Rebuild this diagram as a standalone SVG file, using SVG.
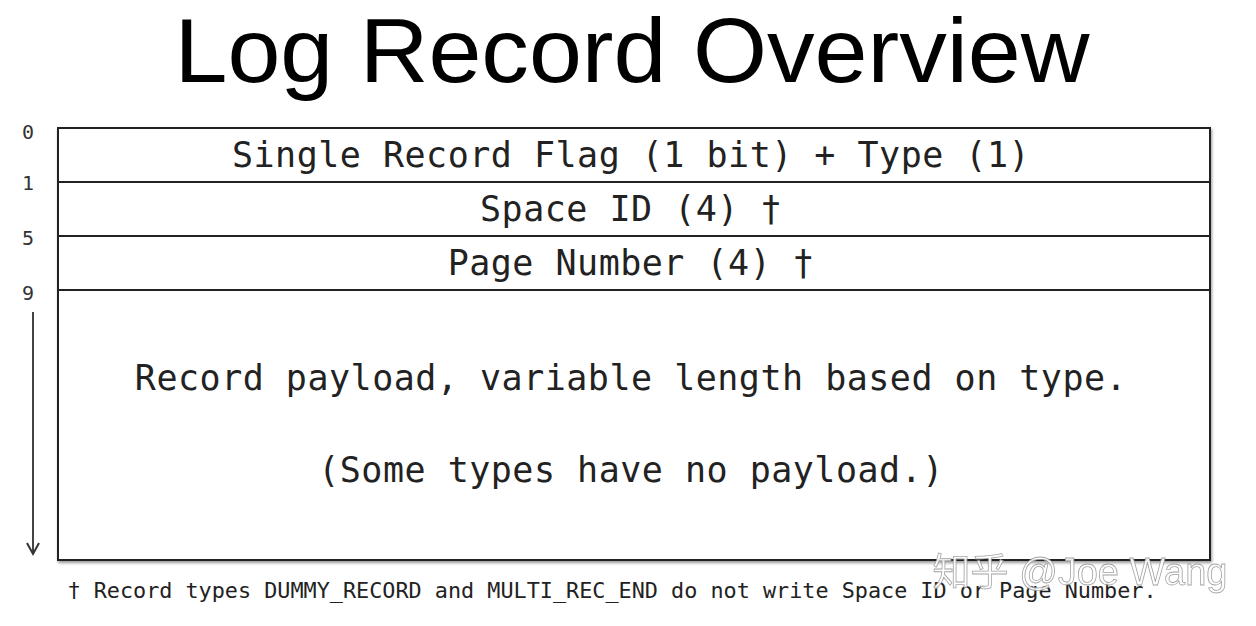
<svg xmlns="http://www.w3.org/2000/svg" width="1256" height="626" viewBox="0 0 1256 626">
<defs>
<style>
.mono{font-family:"DejaVu Sans Mono","Liberation Mono",monospace;fill:#222}
.row{font-size:35px;text-anchor:middle;letter-spacing:0.5px}
.off{font-size:20px;text-anchor:middle;fill:#333}
.ln{stroke:#222;stroke-width:2;fill:none}
</style>
<marker id="ah" markerWidth="16" markerHeight="16" refX="12" refY="7" orient="auto" markerUnits="userSpaceOnUse">
<path d="M1,1 L12,7 L1,13" fill="none" stroke="#333" stroke-width="2"/>
</marker>
<filter id="sh" x="-5%" y="-5%" width="110%" height="110%">
<feDropShadow dx="1" dy="2" stdDeviation="1.5" flood-color="#000" flood-opacity="0.4"/>
</filter>
</defs>
<rect width="1256" height="626" fill="#fff"/>
<text x="632" y="82" font-family="Liberation Sans, Arial, sans-serif" font-size="90" text-anchor="middle" textLength="915" lengthAdjust="spacingAndGlyphs" fill="#000">Log Record Overview</text>
<g id="offsets">
<text class="mono off" x="28" y="139">0</text>
<text class="mono off" x="28" y="190">1</text>
<text class="mono off" x="28" y="245">5</text>
<text class="mono off" x="28" y="300">9</text>
</g>
<g id="frame">
<rect x="58" y="128" width="1152" height="432" fill="#fff" stroke="#222" stroke-width="2" filter="url(#sh)"/>
</g>
<g id="row-flag">
<text class="mono row" x="631" y="167">Single Record Flag (1 bit) + Type (1)</text>
</g>
<g id="row-space">
<line class="ln" x1="58" y1="182" x2="1210" y2="182"/>
<text class="mono row" x="631" y="221">Space ID (4) †</text>
</g>
<g id="row-page">
<line class="ln" x1="58" y1="236" x2="1210" y2="236"/>
<text class="mono row" x="631" y="275">Page Number (4) †</text>
</g>
<g id="row-payload">
<line class="ln" x1="58" y1="290" x2="1210" y2="290"/>
<text class="mono row" x="631" y="390">Record payload, variable length based on type.</text>
<text class="mono row" x="631" y="482">(Some types have no payload.)</text>
</g>
<g id="connectors">
<line x1="33" y1="312" x2="33" y2="554" stroke="#444" stroke-width="2" marker-end="url(#ah)"/>
</g>
<text class="mono" x="612" y="598" font-size="21.8" text-anchor="middle" fill="#333">† Record types DUMMY_RECORD and MULTI_REC_END do not write Space ID or Page Number.</text>
<text x="1080" y="585" font-family="Liberation Sans, 'Noto Sans CJK SC', sans-serif" font-size="38" text-anchor="middle" fill="#fff" stroke="#999" stroke-width="0.8" opacity="0.9">知乎 @Joe Wang</text>
</svg>
